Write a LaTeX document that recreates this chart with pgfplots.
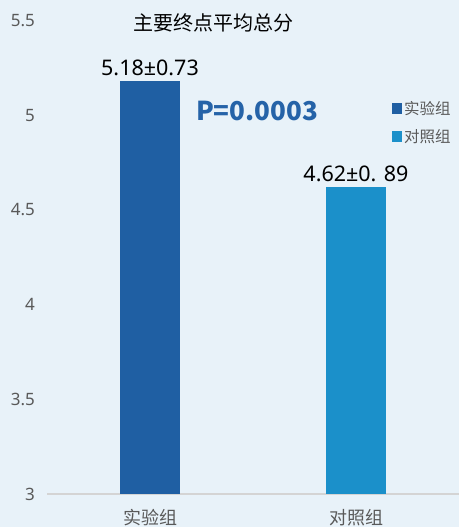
\documentclass[border=0pt]{standalone}
\usepackage{pgfplots}
\pgfplotsset{compat=1.18}
\usepackage{fontspec}
\setmainfont{Noto Sans CJK SC}
\newfontfamily\lat{Noto Sans}
\definecolor{bgc}{HTML}{E8F2F9}
\definecolor{barA}{HTML}{1F5FA3}
\definecolor{barB}{HTML}{1B90CA}
\definecolor{tickc}{HTML}{595959}
\definecolor{linec}{HTML}{D4D4D4}
\definecolor{pcol}{HTML}{2563A8}
\begin{document}
\begin{tikzpicture}[x=1pt,y=1pt]
\useasboundingbox (0,0) rectangle (459,527);
\clip (0,0) rectangle (459,527);
\fill[bgc] (0,0) rectangle (459,527);
\begin{axis}[
  at={(47pt,33pt)}, anchor=south west,
  scale only axis, width=412pt, height=473.4pt,
  xmin=-0.5, xmax=1.5, ymin=3, ymax=5.5,
  ytick={3,3.5,4,4.5,5,5.5},
  yticklabels={3,3.5,4,4.5,5,5.5},
  xtick={0,1}, xticklabels={实验组,对照组},
  axis x line*=bottom, axis y line*=left,
  y axis line style={draw=none},
  x axis line style={draw=linec, line width=1.5pt, -},
  major tick length=0pt,
  tick style={draw=none},
  yticklabel style={font=\lat\fontsize{17}{17}\selectfont, text=tickc, xshift=-8.5pt},
  xticklabel style={font=\fontsize{18}{18}\selectfont, text=tickc, yshift=-12pt},
  /pgf/number format/assume math mode=true,
  ybar, bar width=60pt, bar shift=0pt,
  nodes near coords,
  point meta=explicit symbolic,
  every node near coord/.append style={anchor=base, yshift=6pt, font=\lat\fontsize{21.5}{21.5}\selectfont, text=black},
  legend style={draw=none, fill=none, at={(axis description cs:0.837,0.835)}, anchor=north west,
    font=\fontsize{15.5}{15.5}\selectfont, text=tickc, row sep=10pt, inner sep=0pt,
    /tikz/every even column/.append style={column sep=0pt}},
  legend cell align=left,
  legend image code/.code={\fill[#1,draw=none] (0pt,-5.5pt) rectangle (10pt,5.5pt);},
]
\addplot[fill=barA, draw=none] coordinates {(0,5.18) [5.18±0.73]};
\addlegendentry{实验组}
\addplot[fill=barB, draw=none] coordinates {(1,4.62) [4.62±0. 89]};
\addlegendentry{对照组}
\end{axis}
\node[font=\fontsize{20}{20}\selectfont, text=black] at (213,504) {主要终点平均总分};
\node[font=\fontsize{26}{26}\selectfont\bfseries, text=pcol] at (257,416) {P=0.0003};
\end{tikzpicture}
\end{document}
